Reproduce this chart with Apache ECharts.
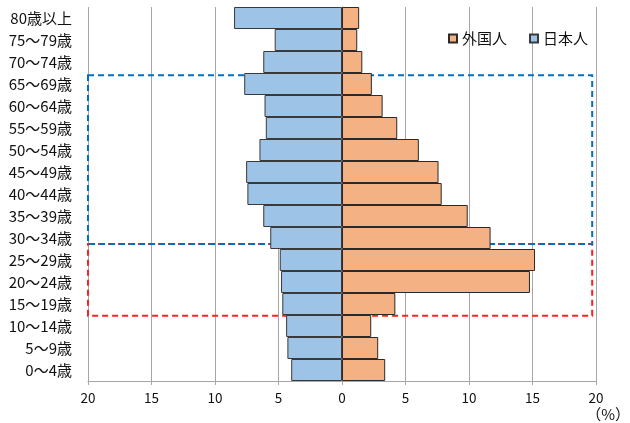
<!DOCTYPE html>
<html>
<head>
<meta charset="utf-8">
<script src="https://cdn.jsdelivr.net/npm/echarts@6/dist/echarts.min.js"></script>
<style>
  html, body { margin: 0; padding: 0; background: #fff; }
  #chart { width: 630px; height: 423px; }
</style>
</head>
<body>
<div id="chart"></div>
<script>
// Age groups, bottom to top
const ageGroups = ['0〜4歳', '5〜9歳', '10〜14歳', '15〜19歳', '20〜24歳', '25〜29歳',
  '30〜34歳', '35〜39歳', '40〜44歳', '45〜49歳', '50〜54歳', '55〜59歳',
  '60〜64歳', '65〜69歳', '70〜74歳', '75〜79歳', '80歳以上'];

// Share of each age group (%)
const japanese = [4.0, 4.3, 4.4, 4.7, 4.8, 4.9, 5.65, 6.2, 7.45, 7.55, 6.5, 6.0, 6.1, 7.7, 6.2, 5.3, 8.5];
const foreigners = [3.4, 2.85, 2.3, 4.2, 14.8, 15.2, 11.7, 9.9, 7.85, 7.6, 6.05, 4.35, 3.2, 2.35, 1.6, 1.2, 1.35];

const xTicks = { min: -20, max: 20, interval: 5 };

// Highlight boxes on a 0–17 band scale (0 = bottom of the lowest group)
const boxWorking = { x0: -20.2, x1: 19.7, y0: 6.23, y1: 13.9 };
const boxYoung = { x0: -20.2, x1: 19.7, y0: 2.97, y1: 6.23 };

const FONT = '"Noto Sans CJK JP", "Noto Sans", sans-serif';

const chart = echarts.init(document.getElementById('chart'));
chart.setOption({
  animation: false,
  textStyle: { fontFamily: FONT },
  grid: { left: 88, right: 34, top: 7, bottom: 42, containLabel: false },
  legend: {
    data: ['外国人', '日本人'],
    left: 443, top: 26,
    itemWidth: 8, itemHeight: 8, itemGap: 22,
    icon: 'rect',
    textStyle: { fontSize: 15, color: '#111', fontFamily: FONT }
  },
  xAxis: [{
    type: 'value',
    min: xTicks.min, max: xTicks.max, interval: xTicks.interval,
    axisLine: { show: true, lineStyle: { color: '#a6a6a6' } },
    axisTick: { show: true, length: 4, lineStyle: { color: '#a6a6a6' } },
    splitLine: { show: true, lineStyle: { color: '#a6a6a6', width: 1 } },
    axisLabel: {
      formatter: v => String(Math.abs(v)),
      fontSize: 13.5, color: '#111', margin: 10, fontFamily: FONT
    }
  }],
  yAxis: [{
    type: 'category',
    data: ageGroups,
    axisLine: { show: true, onZero: true, lineStyle: { color: '#7f7f7f' } },
    axisTick: { show: false },
    axisLabel: { fontSize: 15, color: '#111', margin: 16, fontFamily: FONT }
  }, {
    type: 'value', min: 0, max: 17, show: false
  }],
  graphic: [{
    type: 'text', right: 0, bottom: 1,
    style: { text: '（%）', fontSize: 15, fill: '#111', fontFamily: FONT }
  }],
  series: [{
    name: '日本人',
    type: 'bar',
    data: japanese.map(v => -v),
    barGap: '-100%',
    barCategoryGap: '0%',
    itemStyle: { color: '#9dc3e6', borderColor: '#3a3a3a', borderWidth: 1 }
  }, {
    name: '外国人',
    type: 'bar',
    data: foreigners,
    barGap: '-100%',
    barCategoryGap: '0%',
    itemStyle: { color: '#f4b183', borderColor: '#2a2a2a', borderWidth: 1 }
  }, {
    name: 'boxes',
    type: 'line',
    yAxisIndex: 1,
    data: [],
    silent: true,
    markArea: {
      silent: true,
      data: [
        [{ coord: [boxYoung.x0, boxYoung.y1], itemStyle: { color: 'rgba(0,0,0,0)', borderColor: '#ff2020', borderWidth: 2, borderType: [6, 4] } },
         { coord: [boxYoung.x1, boxYoung.y0] }],
        [{ coord: [boxWorking.x0, boxWorking.y1], itemStyle: { color: 'rgba(0,0,0,0)', borderColor: '#0070c0', borderWidth: 2, borderType: [6, 4] } },
         { coord: [boxWorking.x1, boxWorking.y0] }]
      ]
    }
  }]
});
</script>
</body>
</html>
